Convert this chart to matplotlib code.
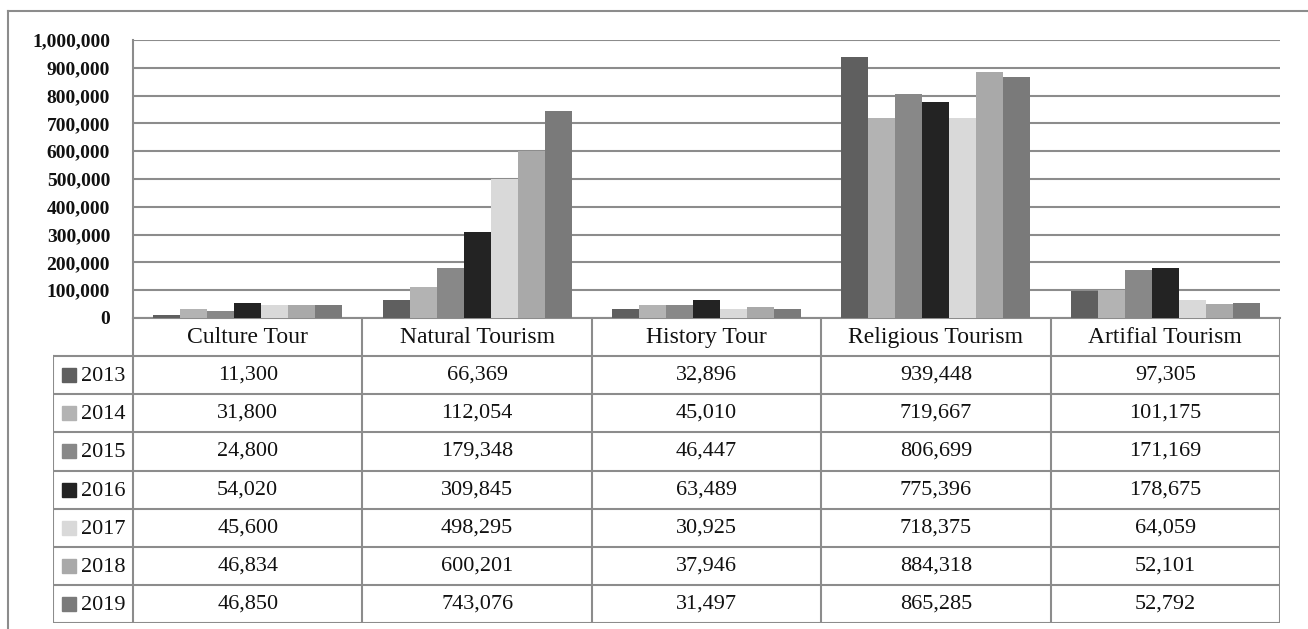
import matplotlib.pyplot as plt
from matplotlib.lines import Line2D
from matplotlib.ticker import FuncFormatter, MultipleLocator

categories = ['Culture Tour', 'Natural Tourism', 'History Tour',
              'Religious Tourism', 'Artifial Tourism']
years = ['2013', '2014', '2015', '2016', '2017', '2018', '2019']

v2013 = [11300, 66369, 32896, 939448, 97305]
v2014 = [31800, 112054, 45010, 719667, 101175]
v2015 = [24800, 179348, 46447, 806699, 171169]
v2016 = [54020, 309845, 63489, 775396, 178675]
v2017 = [45600, 498295, 30925, 718375, 64059]
v2018 = [46834, 600201, 37946, 884318, 52101]
v2019 = [46850, 743076, 31497, 865285, 52792]

series = [v2013, v2014, v2015, v2016, v2017, v2018, v2019]
colours = ['#5f5f5f', '#b3b3b3', '#888888', '#232323',
           '#d9d9d9', '#a9a9a9', '#7a7a7a']

plt.rcParams['font.family'] = ['Liberation Serif', 'DejaVu Serif']

W, H = 1308, 629
grid_c = '#8c8c8c'
line_w = 1.5

fig = plt.figure(figsize=(W / 100, H / 100), dpi=100, facecolor='white')

# pixel layout of the chart block
plot_l, plot_r, plot_t, plot_b = 133, 1280, 40, 318
tab_l, tab_b = 53, 623


def fx(px):
    return px / W


def fy(py):
    return 1 - py / H


# outer frame (top and left edges only)
fig.add_artist(Line2D([fx(8), fx(W)], [fy(11), fy(11)], color=grid_c, lw=line_w))
fig.add_artist(Line2D([fx(8), fx(8)], [fy(11), 0], color=grid_c, lw=line_w))

# bar chart
ax = fig.add_axes([fx(plot_l), fy(plot_b), fx(plot_r) - fx(plot_l), fy(plot_t) - fy(plot_b)])
n = len(series)
bw = 1 / (n + 1.5)
for j, (vals, col) in enumerate(zip(series, colours)):
    xs = [i + (j - (n - 1) / 2) * bw for i in range(len(categories))]
    ax.bar(xs, vals, width=bw, color=col, zorder=3)

ax.set_xlim(-0.5, len(categories) - 0.5)
ax.set_ylim(0, 1000000)
ax.yaxis.set_major_locator(MultipleLocator(100000))
ax.yaxis.set_major_formatter(FuncFormatter(lambda v, p: '{:,.0f}'.format(v)))
ax.grid(axis='y', color=grid_c, lw=line_w, zorder=0)
ax.set_xticks([])
ax.tick_params(axis='y', length=0, pad=16.5, labelsize=14, labelcolor='#111111')
for lbl in ax.get_yticklabels():
    lbl.set_fontweight('semibold')
for s in ['top', 'right']:
    ax.spines[s].set_visible(False)
for s in ['left', 'bottom']:
    ax.spines[s].set_color(grid_c)
    ax.spines[s].set_linewidth(line_w)

# data table under the bars, sharing the category scale
unit = (plot_r - plot_l) / len(categories)
x0 = -0.5 - (plot_l - tab_l) / unit
tab = fig.add_axes([fx(tab_l), fy(tab_b), fx(plot_r) - fx(tab_l), fy(plot_b) - fy(tab_b)])
tab.set_xlim(x0, len(categories) - 0.5)
tab.set_ylim(n + 1, 0)
tab.axis('off')

kw = dict(color=grid_c, lw=line_w, solid_capstyle='projecting')
# vertical rules
for i in range(len(categories) + 1):
    tab.plot([i - 0.5, i - 0.5], [0, n + 1], **kw)
tab.plot([x0, x0], [1, n + 1], **kw)
# horizontal rules
for r in range(1, n + 2):
    tab.plot([x0, len(categories) - 0.5], [r, r], **kw)

for i, cat in enumerate(categories):
    tab.text(i, 0.5, cat, ha='center', va='center', fontsize=17, color='#111111')

sq_x = -0.5 - (plot_l - 69) / unit
for j, (yr, vals, col) in enumerate(zip(years, series, colours)):
    r = j + 1.5
    tab.plot([sq_x], [r], marker='s', ms=10, color=col, mec=col)
    tab.text(sq_x + 12 / unit, r + 0.04, yr, ha='left', va='center', fontsize=16,
             color='#111111')
    for i, v in enumerate(vals):
        tab.text(i, r, '{:,}'.format(v), ha='center', va='center', fontsize=16,
                 color='#111111')

fig.savefig('out.png', dpi=100, facecolor='white')
